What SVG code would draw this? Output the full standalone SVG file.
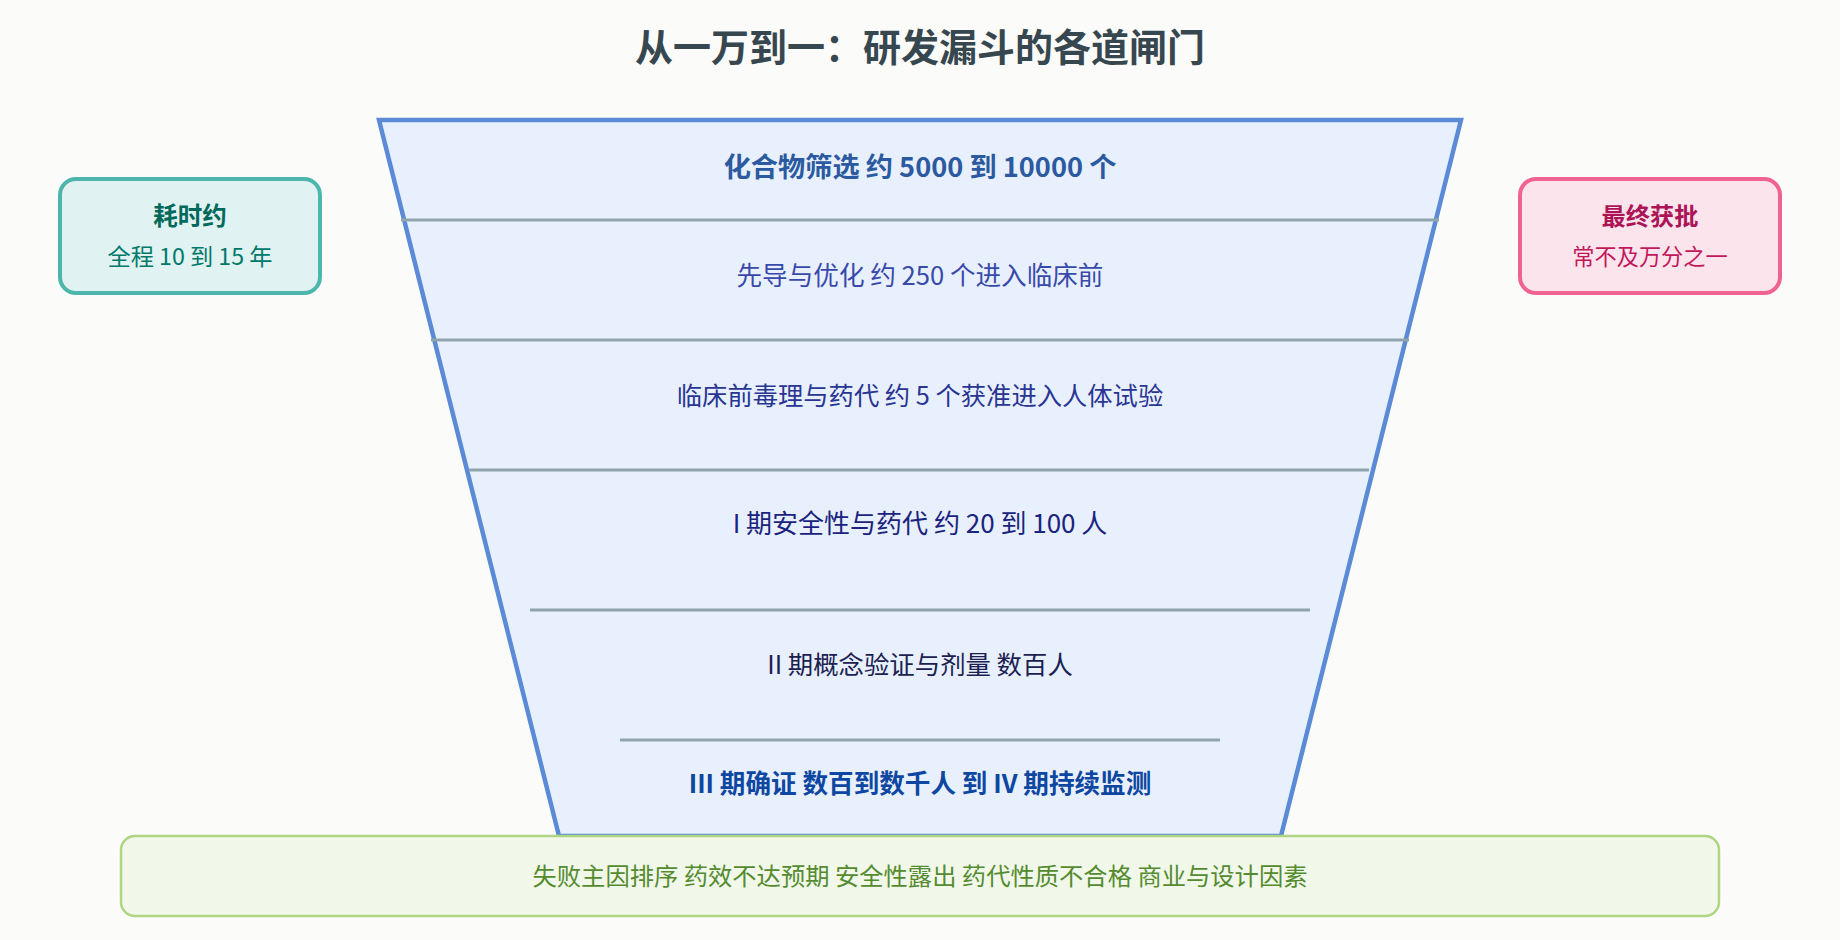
<svg xmlns="http://www.w3.org/2000/svg" width="1840" height="940" viewBox="0 0 1840 940">
<style>
text{font-family:"Noto Sans CJK SC","Noto Sans",sans-serif;text-anchor:middle;dominant-baseline:central}
.b{font-weight:700}
.sep{stroke:#90a4ae;stroke-width:3}
</style>
<rect width="1840" height="940" fill="#fbfbf9"/>
<g id="title"><text x="920" y="44" class="b" font-size="38" fill="#37474f">从一万到一：研发漏斗的各道闸门</text></g>
<g id="funnel">
<polygon points="379,120 1461,120 1281,836 559,836" fill="#e8f0fd" stroke="#5b8bd6" stroke-width="4.5" stroke-linejoin="miter"/>
</g>
<g id="separators">
<line class="sep" x1="401" y1="220" x2="1439" y2="220"/>
<line class="sep" x1="431" y1="340" x2="1409" y2="340"/>
<line class="sep" x1="469" y1="470" x2="1369" y2="470"/>
<line class="sep" x1="530" y1="610" x2="1310" y2="610"/>
<line class="sep" x1="620" y1="740" x2="1220" y2="740"/>
</g>
<g id="stage1"><text x="920" y="165" class="b" font-size="27.2" fill="#2c5aa0">化合物筛选 约 5000 到 10000 个</text></g>
<g id="stage2"><text x="920" y="273" font-size="25.6" fill="#3949ab">先导与优化 约 250 个进入临床前</text></g>
<g id="stage3"><text x="920" y="394" font-size="25.3" fill="#283593">临床前毒理与药代 约 5 个获准进入人体试验</text></g>
<g id="stage4"><text x="920" y="521" font-size="26" fill="#1a237e">I 期安全性与药代 约 20 到 100 人</text></g>
<g id="stage5"><text x="920" y="663" font-size="25.4" fill="#1b2150">II 期概念验证与剂量 数百人</text></g>
<g id="stage6"><text x="920" y="781" class="b" font-size="25.6" fill="#0d47a1">III 期确证 数百到数千人 到 IV 期持续监测</text></g>
<g id="duration">
<rect x="60" y="179" width="260" height="114" rx="16" fill="#e0f2f1" stroke="#4db6ac" stroke-width="4"/>
<text x="190" y="214" class="b" font-size="24.5" fill="#00695c">耗时约</text>
<text x="190" y="254.5" font-size="23.2" fill="#00796b">全程 10 到 15 年</text>
</g>
<g id="approval">
<rect x="1520" y="179" width="260" height="114" rx="16" fill="#fce4ec" stroke="#f06292" stroke-width="4"/>
<text x="1650" y="214" class="b" font-size="24.2" fill="#ad1457">最终获批</text>
<text x="1650" y="254.5" font-size="22.2" fill="#c2185b">常不及万分之一</text>
</g>
<g id="failures">
<rect x="121" y="836" width="1598" height="80" rx="14" fill="#f1f8e9" stroke="#aed581" stroke-width="2.5"/>
<text x="920" y="874" font-size="24.3" fill="#558b2f">失败主因排序 药效不达预期 安全性露出 药代性质不合格 商业与设计因素</text>
</g>
</svg>
